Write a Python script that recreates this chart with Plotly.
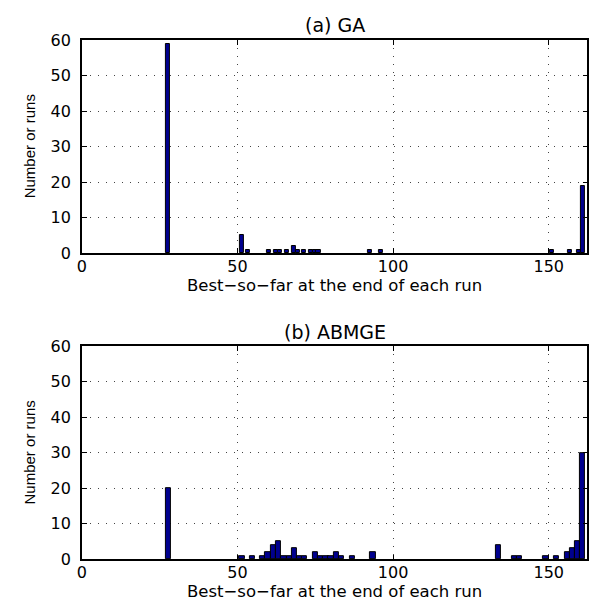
import plotly.graph_objects as go

# (a) GA histogram: bin centres and counts
ga_x = [27.5, 51.3, 53.4, 60.1, 62.3, 63.6, 65.8, 68.0, 69.3, 71.3, 73.6, 74.8, 76.0,
        92.6, 96.1, 150.9, 156.7, 159.7, 161.0]
ga_n = [59, 5, 1, 1, 1, 1, 1, 2, 1, 1, 1, 1, 1, 1, 1, 1, 1, 1, 19]

# (b) ABMGE histogram: bin centres and counts
ab_x = [27.8, 51.4, 54.8, 58.1, 59.8, 61.5, 63.2, 64.9, 66.6, 68.2, 69.9, 71.6, 75.0,
        76.7, 78.4, 80.0, 81.7, 83.4, 86.8, 93.5, 133.9, 139.0, 140.7, 149.1, 152.5,
        155.9, 157.5, 159.2, 160.9]
ab_n = [20, 1, 1, 1, 2, 4, 5, 1, 1, 3, 1, 1, 2, 1, 1, 1, 2, 1, 1, 2, 4, 1, 1, 1, 1,
        2, 3, 5, 30]

titles = ["(a) GA", "(b) ABMGE"]
xlabel = "Best\u2212so\u2212far at the end of each run"
ylabel = "Number or runs"
x_ticks = [0, 50, 100, 150]
y_ticks = [0, 10, 20, 30, 40, 50, 60]

W, H = 589, 610
left, right = 77.7, 588.3
panels = [(32, 252), (348, 568)]

fig = go.Figure()
bar_color = "#00008F"
fig.add_trace(go.Bar(x=ga_x, y=ga_n, width=1.3, marker=dict(color=bar_color, line=dict(color="black", width=1)),
                     xaxis="x", yaxis="y"))
fig.add_trace(go.Bar(x=ab_x, y=ab_n, width=1.68, marker=dict(color=bar_color, line=dict(color="black", width=1)),
                     xaxis="x2", yaxis="y2"))

font_tick = dict(family="DejaVu Sans", size=16, color="black")
axcommon = dict(showline=True, linecolor="black", linewidth=1.5, mirror="ticks",
                ticks="inside", ticklen=5, tickcolor="black", tickwidth=1,
                showgrid=True, gridcolor="#444", gridwidth=1, griddash="1px,7px",
                zeroline=False, tickfont=font_tick)

xd = [left / W, right / W]
layout = dict(width=W, height=H, margin=dict(l=0, r=0, t=0, b=0),
              plot_bgcolor="white", paper_bgcolor="white", showlegend=False,
              bargap=0)
for i, (top, bot) in enumerate(panels):
    sfx = "" if i == 0 else "2"
    yd = [1 - bot / H, 1 - top / H]
    layout["xaxis" + sfx] = dict(domain=xd, range=[0, 162.4], tickvals=x_ticks,
                                 anchor="y" + sfx, ticklabelstandoff=-2, **axcommon)
    layout["yaxis" + sfx] = dict(domain=yd, range=[0, 60], tickvals=y_ticks,
                                 anchor="x" + sfx, ticklabelstandoff=6, **axcommon)
fig.update_layout(**layout)

anns = []
for i, (top, bot) in enumerate(panels):
    cx = (left + right) / 2 / W
    anns.append(dict(text=titles[i], x=cx, y=1 - (top - 15) / H, xref="paper", yref="paper",
                     showarrow=False, font=dict(family="DejaVu Sans", size=19, color="black"),
                     xanchor="center", yanchor="middle"))
    anns.append(dict(text=xlabel, x=cx, y=1 - (bot + 33) / H, xref="paper", yref="paper",
                     showarrow=False, font=dict(family="DejaVu Sans", size=16.5, color="black"),
                     xanchor="center", yanchor="middle"))
    anns.append(dict(text=ylabel, x=25 / W, y=1 - ((top + bot) / 2) / H, xref="paper", yref="paper",
                     showarrow=False, textangle=-90,
                     font=dict(family="Liberation Sans", size=15, color="black"),
                     xanchor="center", yanchor="middle"))
fig.update_layout(annotations=anns)

fig.write_html("out.html")
